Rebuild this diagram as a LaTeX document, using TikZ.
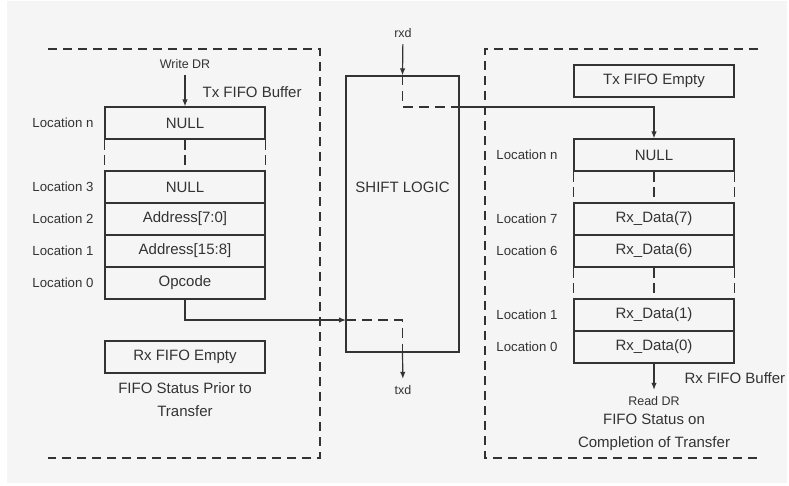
\documentclass[tikz,border=0pt]{standalone}
\usepackage{fontspec}
\setmainfont{Liberation Sans}
\usetikzlibrary{arrows.meta}
\definecolor{ink}{HTML}{333333}
\definecolor{paper}{HTML}{F5F5F5}

\begin{document}
\begin{tikzpicture}[x=1pt, y=-1pt, line width=1.2pt, color=ink,
    >={Latex[length=7pt,width=5.5pt]},
    cell/.style={draw, minimum width=160pt, minimum height=32pt, inner sep=0pt,
        font=\fontsize{15}{18}\selectfont},
    loc/.style={anchor=east, inner sep=0pt, font=\fontsize{13.2}{15}\selectfont},
    sig/.style={inner sep=6pt, font=\fontsize{12.5}{15}\selectfont},
    title/.style={anchor=west, inner sep=0pt, font=\fontsize{15}{18}\selectfont},
    note/.style={align=center, inner sep=0pt, font=\fontsize{15}{23}\selectfont},
    frame/.style={dash pattern=on 9pt off 6pt},
    flow/.style={dash pattern=on 10pt off 6pt},
    gap/.style={dash pattern=on 10pt off 5pt}]
    \fill[white] (0,0) rectangle (789,485);
    \fill[paper] (7,1) rectangle (787,483);

    % status frames
    \draw[frame] (48,49) -- (320,49) -- (320,458) -- (48,458);
    \draw[frame] (758,49) -- (485,49) -- (485,458) -- (758,458);

    % tx side
    \node[sig] (wdr) at (185,64) {Write DR};
    \node[title] (txbuf) at (202,92) {Tx FIFO Buffer};
    \node[cell] (tn) at (185,123) {NULL};
    \node[cell] (t3) at (185,187) {NULL};
    \node[cell] (t2) at (185,219) {Address[7:0]};
    \node[cell] (t1) at (185,251) {Address[15:8]};
    \node[cell] (t0) at (185,283) {Opcode};
    \node[loc] (ltn) at (94,123) {Location n};
    \node[loc] (lt3) at (94,187) {Location 3};
    \node[loc] (lt2) at (94,219) {Location 2};
    \node[loc] (lt1) at (94,251) {Location 1};
    \node[loc] (lt0) at (94,283) {Location 0};
    \node[cell] (rxe) at (185,357) {Rx FIFO Empty};
    \node[note] (prior) at (185,400) {FIFO Status Prior to\\Transfer};

    % shift logic
    \node[draw, minimum width=113pt, minimum height=276pt] (shift) at (402.5,214) {};
    \node[font=\fontsize{15}{18}\selectfont] (shiftlbl) at (402.5,187) {SHIFT LOGIC};
    \node[sig] (rxd) at (403,33) {rxd};
    \node[sig] (txd) at (403,390) {txd};

    % rx side
    \node[cell] (txe) at (654,81) {Tx FIFO Empty};
    \node[cell] (rn) at (654,155) {NULL};
    \node[cell] (r7) at (654,219) {Rx\_Data(7)};
    \node[cell] (r6) at (654,251) {Rx\_Data(6)};
    \node[cell] (r1) at (654,315) {Rx\_Data(1)};
    \node[cell] (r0) at (654,347) {Rx\_Data(0)};
    \node[loc] (lrn) at (558,155) {Location n};
    \node[loc] (lr7) at (558,219) {Location 7};
    \node[loc] (lr6) at (558,251) {Location 6};
    \node[loc] (lr1) at (558,315) {Location 1};
    \node[loc] (lr0) at (558,347) {Location 0};
    \node[title] (rxbuf) at (684,378) {Rx FIFO Buffer};
    \node[sig] (rdr) at (654,401) {Read DR};
    \node[note] (done) at (654,432) {FIFO Status on\\Completion of Transfer};

    % skipped locations
    \foreach \a/\b in {south west/north west, south/north, south east/north east} {
        \draw[gap] (tn.\a) -- (t3.\b);
        \draw[gap] (rn.\a) -- (r7.\b);
        \draw[gap] (r6.\a) -- (r1.\b);
    }

    % data paths
    \coordinate (txin) at (346,320);
    \coordinate (rxout) at (459,107);
    \draw[->] (wdr) -- (tn);
    \draw[->] (t0.south) |- (txin);
    \draw[flow] (txin) -| (shift.south);
    \draw[->] (shift.south) -- (txd);
    \draw[->] (rxd) -- (shift.north);
    \draw[flow] (shift.north) |- (rxout);
    \draw[->] (rxout) -| (rn.north);
    \draw[->] (r0) -- (rdr);
\end{tikzpicture}
\end{document}
